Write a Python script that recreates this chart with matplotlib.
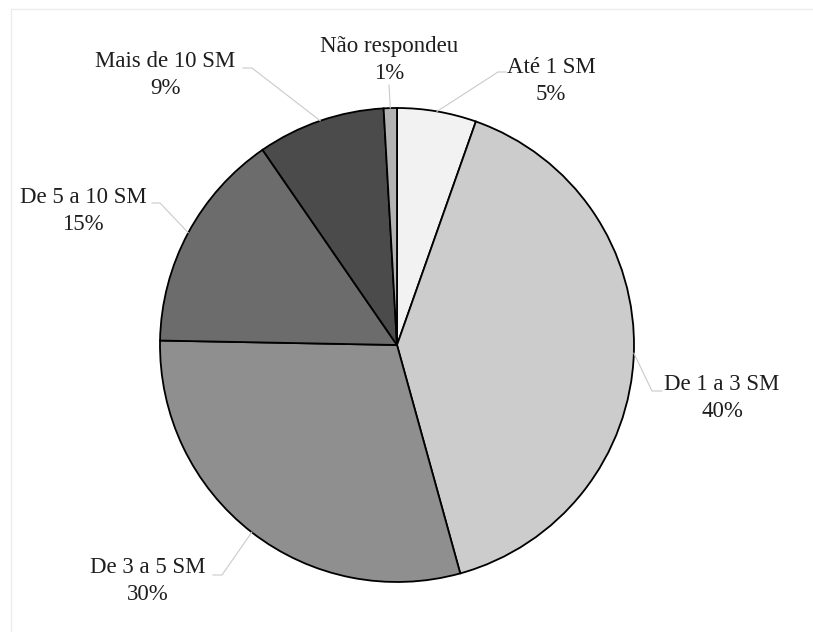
#
# Distribuição por faixa de renda (salários mínimos) - gráfico de pizza
#
import numpy as np
import matplotlib.pyplot as plt

# faixas de renda, no sentido horário a partir do topo
faixas = ["Até 1 SM",
          "De 1 a 3 SM",
          "De 3 a 5 SM",
          "De 5 a 10 SM",
          "Mais de 10 SM",
          "Não respondeu"]

# percentuais
valores = [5.4, 40.3, 29.6, 15.1, 8.7, 0.9]

# tons de cinza de cada fatia
cores = ["#f2f2f2",
         "#cccccc",
         "#8f8f8f",
         "#6c6c6c",
         "#4b4b4b",
         "#b3b3b3"]

# centro e raio da pizza em pixels na figura 813x632
W, H = 813, 632
CX, CY, R = 397, 345, 237


def px(x, y):
    # pixel -> coordenada de dados (raio da pizza = 1)
    return (x - CX) / R, (CY - y) / R


# posição do texto, cotovelo e fim da linha de chamada (pixels)
rotulos = [
    ((551, 81), (498, 72), (506, 72)),
    ((722, 398), (652, 391), (662, 391)),
    ((148, 581), (222, 575), (213, 575)),
    ((83, 211), (160, 203), (152, 203)),
    ((165, 75), (252, 68), (243, 68)),
    ((389, 60), (389, 85), (389, 85)),
]

plt.rcParams['font.family'] = ['Liberation Serif', 'DejaVu Serif']

fig = plt.figure(figsize=(W / 100, H / 100), dpi=100)
ax = fig.add_axes([0, 0, 1, 1])

wedges, _ = ax.pie(valores, colors=cores, startangle=90, counterclock=False,
                   radius=1.0,
                   wedgeprops=dict(edgecolor="black", linewidth=1.3))

# pie() fixa os limites; redefine para a escala em pixels
ax.set_xlim(-CX / R, (W - CX) / R)
ax.set_ylim(-(H - CY) / R, CY / R)
ax.set_aspect('equal')
ax.axis('off')

# moldura clara
ax.plot([px(11, 0)[0], px(11, 9)[0], px(813, 9)[0]],
        [px(11, 632)[1], px(11, 9)[1], px(813, 9)[1]],
        color="#ececec", lw=1.0)

total = sum(valores)
for w, nome, v, (txt, cot, fim) in zip(wedges, faixas, valores, rotulos):
    ang = np.deg2rad((w.theta1 + w.theta2) / 2)
    x0, y0 = np.cos(ang), np.sin(ang)
    xc, yc = px(*cot)
    xf, yf = px(*fim)
    ax.plot([x0, xc, xf], [y0, yc, yf], color="#cacaca", lw=0.8, zorder=1)
    tx, ty = px(*txt)
    ax.text(tx, ty, "%s\n%.0f%%" % (nome, v / total * 100),
            ha="center", va="center", fontsize=16.5, linespacing=1.4,
            color="#1e1e1e")

plt.savefig("out.png", dpi=100)
plt.close('all')
